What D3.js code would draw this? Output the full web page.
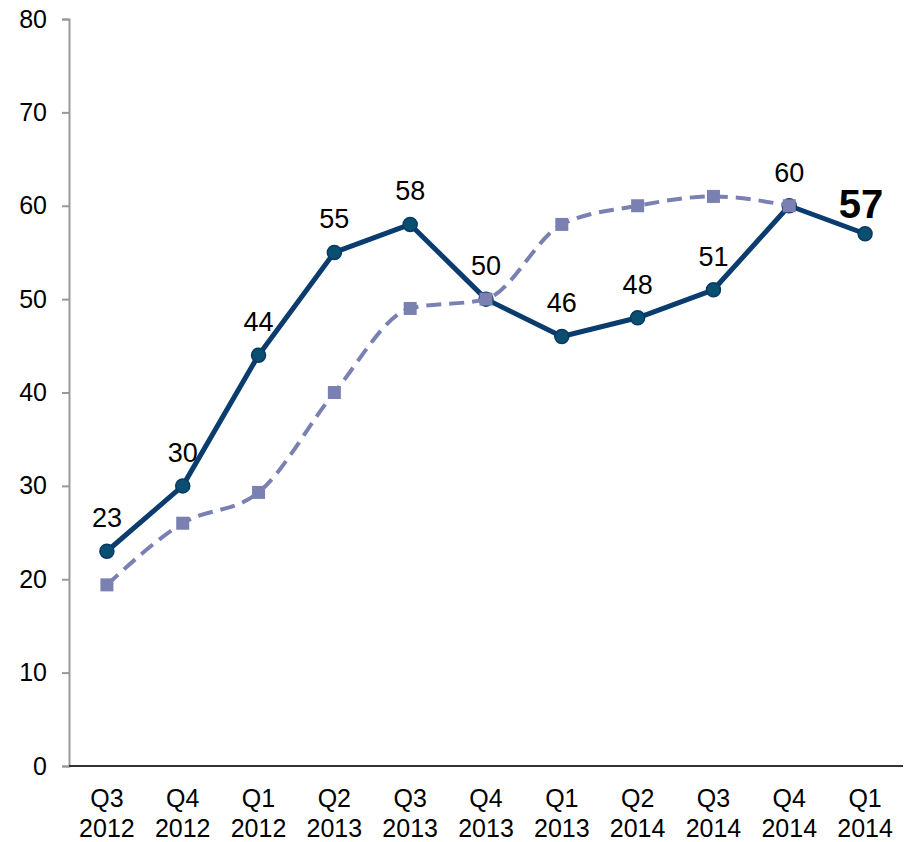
<!DOCTYPE html>
<html>
<head>
<meta charset="utf-8">
<script src="https://cdn.jsdelivr.net/npm/d3@7"></script>
<style>
  body { margin: 0; background: #fff; }
  text { font-family: 'Liberation Sans', Arial, sans-serif; }
</style>
</head>
<body>
<svg id="chart" width="913" height="842"></svg>
<script>
const quarters = ['Q3', 'Q4', 'Q1', 'Q2', 'Q3', 'Q4', 'Q1', 'Q2', 'Q3', 'Q4', 'Q1']
const years = ['2012', '2012', '2012', '2013', '2013', '2013', '2013', '2014', '2014', '2014', '2014']
const mainValues = [23, 30, 44, 55, 58, 50, 46, 48, 51, 60, 57]
const compareValues = [19.4, 26, 29.3, 40, 49, 50, 58, 60, 61, 60]
const yTicks = [0, 10, 20, 30, 40, 50, 60, 70, 80]

const svg = d3.select('#chart')
const idx = d3.range(quarters.length)

const x = d3.scalePoint()
  .domain(idx)
  .range([69, 903])
  .padding(0.5)
const y = d3.scaleLinear()
  .domain([0, 80])
  .range([766, 19])

// y axis
const yAxis = svg.append('g')
  .attr('transform', 'translate(69,0)')
  .call(d3.axisLeft(y).tickValues(yTicks).tickSize(7).tickPadding(15))
yAxis.select('.domain').attr('stroke', '#999').attr('stroke-width', 2)
yAxis.selectAll('.tick line').attr('stroke', '#999').attr('stroke-width', 2)
yAxis.selectAll('.tick text')
  .attr('font-size', 25)
  .attr('fill', '#000')
  .style('font-family', "'Liberation Sans', Arial, sans-serif")

// x axis line
svg.append('line')
  .attr('x1', 69).attr('x2', 903)
  .attr('y1', y(0)).attr('y2', y(0))
  .attr('stroke', '#333').attr('stroke-width', 2)

// x labels
const xl = svg.selectAll('.xlab')
  .data(idx)
  .enter().append('text')
  .attr('class', 'xlab')
  .attr('text-anchor', 'middle')
  .attr('font-size', 25)
  .attr('fill', '#000')
xl.append('tspan').attr('x', (d) => x(d)).attr('y', 807).text((d) => quarters[d])
xl.append('tspan').attr('x', (d) => x(d)).attr('y', 837).text((d) => years[d])

// main series
const line = d3.line()
  .x((d, i) => x(i))
  .y((d) => y(d))
svg.append('path')
  .datum(mainValues)
  .attr('fill', 'none')
  .attr('stroke', '#0b3c6e')
  .attr('stroke-width', 5)
  .attr('stroke-linejoin', 'round')
  .attr('d', line)
svg.selectAll('.dot')
  .data(mainValues)
  .enter().append('circle')
  .attr('class', 'dot')
  .attr('cx', (d, i) => x(i))
  .attr('cy', (d) => y(d))
  .attr('r', 7)
  .attr('fill', '#0b4f70')
  .attr('stroke', '#063a66')
  .attr('stroke-width', 1.5)

// comparison series (smoothed, dashed)
const smooth = d3.line()
  .x((d, i) => x(i))
  .y((d) => y(d))
  .curve(d3.curveMonotoneX)
svg.append('path')
  .datum(compareValues)
  .attr('fill', 'none')
  .attr('stroke', '#7a80b2')
  .attr('stroke-width', 4)
  .attr('stroke-dasharray', '15,8')
  .attr('d', smooth)
svg.selectAll('.sq')
  .data(compareValues)
  .enter().append('rect')
  .attr('class', 'sq')
  .attr('x', (d, i) => x(i) - 6.5)
  .attr('y', (d) => y(d) - 6.5)
  .attr('width', 13)
  .attr('height', 13)
  .attr('fill', '#7a80b2')

// data labels
const last = mainValues.length - 1
svg.selectAll('.lab')
  .data(mainValues)
  .enter().append('text')
  .attr('class', 'lab')
  .attr('text-anchor', 'middle')
  .attr('x', (d, i) => i === last ? x(i) - 4 : x(i))
  .attr('y', (d, i) => i === last ? y(d) - 16 : y(d) - 24)
  .attr('font-size', (d, i) => i === last ? 40 : 27)
  .attr('font-weight', (d, i) => i === last ? 'bold' : 'normal')
  .attr('fill', '#000')
  .text((d) => d)
</script>
</body>
</html>
